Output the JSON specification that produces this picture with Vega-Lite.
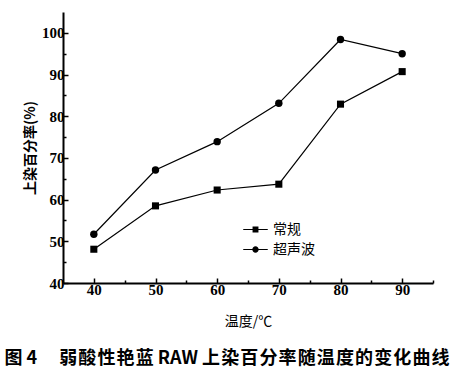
{
  "$schema": "https://vega.github.io/schema/vega-lite/v6.json",
  "width": 370,
  "height": 271,
  "autosize": {"type": "none"},
  "padding": {"left": 63, "top": 12, "right": 23, "bottom": 96},
  "background": "white",
  "config": {"view": {"stroke": null}},
  "title": {
    "text": "图 4\u3000 弱\u200a酸\u200a性\u200a艳\u200a蓝 RAW 上\u200a染\u200a百\u200a分\u200a率\u200a随\u200a温\u200a度\u200a的\u200a变\u200a化\u200a曲\u200a线",
    "orient": "bottom",
    "anchor": "middle",
    "font": "Noto Sans CJK SC",
    "fontSize": 18,
    "fontWeight": "bold",
    "color": "black",
    "offset": 22,
    "dx": -21
  },
  "data": {
    "values": [
      {"t": 40, "v": 48.1, "s": "常规"},
      {"t": 50, "v": 58.5, "s": "常规"},
      {"t": 60, "v": 62.3, "s": "常规"},
      {"t": 70, "v": 63.7, "s": "常规"},
      {"t": 80, "v": 82.9, "s": "常规"},
      {"t": 90, "v": 90.7, "s": "常规"},
      {"t": 40, "v": 51.7, "s": "超声波"},
      {"t": 50, "v": 67.1, "s": "超声波"},
      {"t": 60, "v": 73.9, "s": "超声波"},
      {"t": 70, "v": 83.1, "s": "超声波"},
      {"t": 80, "v": 98.4, "s": "超声波"},
      {"t": 90, "v": 95.0, "s": "超声波"}
    ]
  },
  "encoding": {
    "x": {
      "field": "t", "type": "quantitative",
      "scale": {"domain": [35, 95], "nice": false, "zero": false},
      "axis": {
        "title": "温度/℃",
        "titleFont": "Noto Sans CJK SC", "titleFontSize": 14, "titleFontWeight": "normal", "titleColor": "black",
        "titlePadding": 17,
        "values": [40, 45, 50, 55, 60, 65, 70, 75, 80, 85, 90, 95],
        "labelExpr": "datum.value % 10 == 0 && datum.value <= 90 ? datum.label : ''",
        "labelFont": "Liberation Serif", "labelFontSize": 15, "labelFontWeight": "bold", "labelColor": "black",
        "labelPadding": 4,
        "grid": false,
        "domainColor": "black", "domainWidth": 2,
        "tickColor": "black", "tickWidth": 1.5,
        "tickSize": {"condition": {"test": "datum.value % 10 != 0", "value": -3}, "value": -5}
      }
    },
    "y": {
      "field": "v", "type": "quantitative",
      "scale": {"domain": [40, 105], "nice": false, "zero": false},
      "axis": {
        "title": "上染百分率(%)",
        "titleFont": "Noto Sans CJK SC", "titleFontSize": 14, "titleFontWeight": "bold", "titleColor": "black",
        "titlePadding": 4,
        "values": [40, 45, 50, 55, 60, 65, 70, 75, 80, 85, 90, 95, 100],
        "labelExpr": "datum.value % 10 == 0 ? datum.label : ''",
        "labelFont": "Liberation Serif", "labelFontSize": 15, "labelFontWeight": "bold", "labelColor": "black",
        "labelPadding": 4,
        "grid": false,
        "domainColor": "black", "domainWidth": 2,
        "tickColor": "black", "tickWidth": 1.5,
        "tickSize": {"condition": {"test": "datum.value % 10 != 0", "value": -3}, "value": -5}
      }
    }
  },
  "layer": [
    {
      "mark": {"type": "line", "color": "black", "strokeWidth": 1.2},
      "encoding": {"detail": {"field": "s"}}
    },
    {
      "transform": [{"filter": "datum.s == '常规'"}],
      "mark": {"type": "point", "shape": "square", "filled": true, "color": "black", "opacity": 1, "size": 50}
    },
    {
      "transform": [{"filter": "datum.s == '超声波'"}],
      "mark": {"type": "point", "shape": "circle", "filled": true, "color": "black", "opacity": 1, "size": 55}
    },
    {
      "mark": {"type": "point", "filled": true, "color": "black", "opacity": 0},
      "encoding": {
        "shape": {
          "field": "s", "type": "nominal",
          "scale": {
            "domain": ["常规", "超声波"],
            "range": [
              "M-1,-0.05H-0.2V0.05H-1ZM0.2,-0.05H1V0.05H0.2ZM-0.24,-0.24H0.24V0.24H-0.24Z",
              "M-1,-0.05H-0.2V0.05H-1ZM0.2,-0.05H1V0.05H0.2ZM0.26,0A0.26,0.26 0 1,1 -0.26,0A0.26,0.26 0 1,1 0.26,0Z"
            ]
          },
          "legend": {
            "title": null,
            "orient": "none",
            "legendX": 180,
            "legendY": 205,
            "symbolSize": 600,
            "symbolOpacity": 1,
            "symbolFillColor": "black",
            "symbolStrokeWidth": 0,
            "labelFont": "Noto Sans CJK SC",
            "labelFontSize": 14,
            "labelColor": "black",
            "labelOffset": 5,
            "rowPadding": -6.5
          }
        }
      }
    }
  ]
}
